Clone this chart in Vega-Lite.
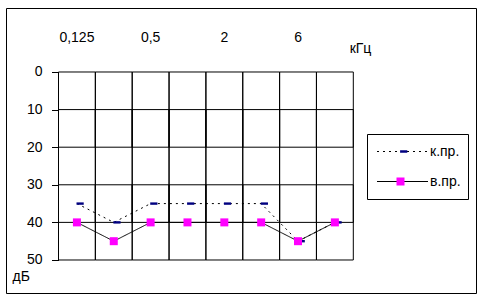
{
  "$schema": "https://vega.github.io/schema/vega-lite/v6.json",
  "width": 470,
  "height": 285,
  "autosize": {"type": "none"},
  "padding": {"left": 6, "top": 8, "right": 9, "bottom": 9},
  "background": "white",
  "data": {
    "values": [
      {"f": "0,125", "s": "к.пр.", "db": 35},
      {"f": "0,25", "s": "к.пр.", "db": 40},
      {"f": "0,5", "s": "к.пр.", "db": 35},
      {"f": "1", "s": "к.пр.", "db": 35},
      {"f": "2", "s": "к.пр.", "db": 35},
      {"f": "4", "s": "к.пр.", "db": 35},
      {"f": "6", "s": "к.пр.", "db": 45},
      {"f": "8", "s": "к.пр.", "db": 40},
      {"f": "0,125", "s": "в.пр.", "db": 40},
      {"f": "0,25", "s": "в.пр.", "db": 45},
      {"f": "0,5", "s": "в.пр.", "db": 40},
      {"f": "1", "s": "в.пр.", "db": 40},
      {"f": "2", "s": "в.пр.", "db": 40},
      {"f": "4", "s": "в.пр.", "db": 40},
      {"f": "6", "s": "в.пр.", "db": 45},
      {"f": "8", "s": "в.пр.", "db": 40}
    ]
  },
  "encoding": {
    "x": {
      "field": "f",
      "type": "nominal",
      "sort": null,
      "scale": {
        "type": "band",
        "domain": ["0,125", "0,25", "0,5", "1", "2", "4", "6", "8"],
        "range": [52.5, 347.3],
        "paddingInner": 0,
        "paddingOuter": 0
      },
      "axis": {
        "orient": "top",
        "offset": -29,
        "values": ["0,125", "0,5", "2", "6"],
        "domain": false,
        "ticks": false,
        "tickSize": 0,
        "grid": false,
        "labelPadding": 0,
        "labelBaseline": "middle",
        "labelAngle": 0,
        "title": "кГц",
        "titleX": 354,
        "titleY": 11,
        "titleAlign": "center",
        "titleBaseline": "middle",
        "titleAnchor": null
      }
    }
  },
  "layer": [
    {
      "transform": [{"filter": "datum.s === 'в.пр.'"}],
      "mark": {"type": "rect", "fill": null, "fillOpacity": 0, "stroke": "black", "strokeWidth": 1},
      "encoding": {
        "y": {
          "datum": 0,
          "type": "quantitative",
          "scale": {"domain": [-17.02, 58.78], "reverse": true, "nice": false, "zero": false},
          "axis": {
            "orient": "left",
            "offset": -52.5,
            "values": [0, 10, 20, 30, 40, 50],
            "domain": false,
            "grid": false,
            "ticks": true,
            "tickSize": 7,
            "tickColor": "black",
            "tickWidth": 1,
            "labelPadding": 9.5,
            "title": "дБ",
            "titleAngle": 0,
            "titleX": -46.5,
            "titleY": 268,
            "titleAlign": "left",
            "titleBaseline": "middle",
            "titleAnchor": null
          }
        },
        "y2": {"datum": 50}
      }
    },
    {
      "transform": [{"filter": "datum.s === 'в.пр.'"}],
      "mark": {"type": "rect", "fill": null, "fillOpacity": 0, "stroke": "black", "strokeWidth": 1},
      "encoding": {"y": {"datum": 10, "type": "quantitative"}, "y2": {"datum": 20}}
    },
    {
      "transform": [{"filter": "datum.s === 'в.пр.'"}],
      "mark": {"type": "rect", "fill": null, "fillOpacity": 0, "stroke": "black", "strokeWidth": 1},
      "encoding": {"y": {"datum": 30, "type": "quantitative"}, "y2": {"datum": 40}}
    },
    {
      "mark": {"type": "line", "color": "black", "strokeWidth": 1},
      "encoding": {
        "y": {"field": "db", "type": "quantitative"},
        "strokeDash": {
          "field": "s",
          "type": "nominal",
          "sort": ["к.пр.", "в.пр."],
          "scale": {"range": [[2, 4], [1, 0]]},
          "legend": {
            "orient": "none",
            "legendX": 361,
            "legendY": 126,
            "title": null,
            "padding": 7,
            "strokeColor": "black",
            "fillColor": "white",
            "symbolType": "M-1,0H11.75",
            "symbolSize": 64,
            "symbolStrokeColor": "black",
            "symbolStrokeWidth": 1,
            "symbolFillColor": "transparent",
            "labelFontSize": 14,
            "labelColor": "black",
            "labelOffset": 42,
            "clipHeight": 21,
            "rowPadding": 9,
            "zindex": 0
          }
        }
      }
    },
    {
      "mark": {"type": "point", "filled": true, "opacity": 1, "size": 64, "strokeWidth": 0},
      "encoding": {
        "y": {"field": "db", "type": "quantitative"},
        "shape": {
          "field": "s",
          "type": "nominal",
          "scale": {"domain": ["к.пр.", "в.пр."], "range": ["M-0.1,-0.3H1.7V0.3H-0.1Z", "square"]},
          "legend": {
            "orient": "none",
            "legendX": 382.5,
            "legendY": 126,
            "title": null,
            "padding": 7,
            "symbolSize": 64,
            "symbolStrokeWidth": 0,
            "clipHeight": 21,
            "rowPadding": 9,
            "labelExpr": "''",
            "zindex": 1
          }
        },
        "fill": {
          "field": "s",
          "type": "nominal",
          "scale": {"domain": ["к.пр.", "в.пр."], "range": ["#000080", "#ff00ff"]},
          "legend": {
            "orient": "none",
            "legendX": 382.5,
            "legendY": 126,
            "title": null,
            "padding": 7,
            "symbolSize": 64,
            "symbolStrokeWidth": 0,
            "clipHeight": 21,
            "rowPadding": 9,
            "labelExpr": "''",
            "zindex": 1
          }
        }
      }
    }
  ],
  "config": {
    "font": "Liberation Sans",
    "view": {"stroke": "black", "strokeWidth": 1},
    "axis": {
      "labelColor": "black",
      "labelFontSize": 14,
      "labelFont": "Liberation Sans",
      "titleColor": "black",
      "titleFontSize": 14,
      "titleFont": "Liberation Sans",
      "titleFontWeight": "normal"
    },
    "legend": {"labelFont": "Liberation Sans"}
  }
}
